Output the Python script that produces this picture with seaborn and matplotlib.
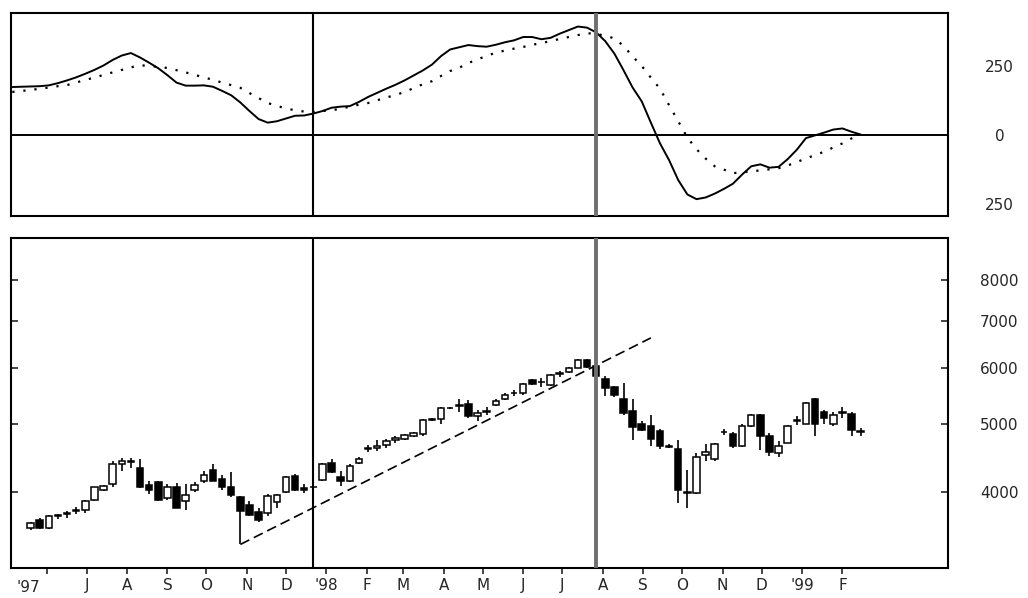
import numpy as np
import pandas as pd
import matplotlib as mpl
import matplotlib.pyplot as plt
plt.switch_backend('Agg')
import seaborn as sns

# weekly candles, May 1997 - Feb 1999
week_start = "1997-05-19"
opens = [3560, 3650, 3560, 3700, 3720, 3760, 3770, 3900, 4030, 4110,
         4380, 4420, 4330, 4090, 4130, 3920, 4070, 3880, 4030, 4150,
         4300, 4180, 4060, 3930, 3830, 3750, 3740, 3870, 4000, 4220,
         4050, 4060, 4160, 4400, 4200, 4150, 4400, 4600, 4620, 4660,
         4740, 4760, 4800, 4830, 5060, 5080, 5260, 5300, 5340, 5120,
         5200, 5320, 5420, 5520, 5520, 5770, 5730, 5680, 5880, 5920,
         6000, 6150, 6040, 5780, 5630, 5420, 5220, 5000, 4970, 4880,
         4650, 4600, 3990, 3990, 4520, 4450, 4870, 4840, 4650, 4960,
         5150, 4810, 4550, 4700, 5040, 5000, 5420, 5200, 5000, 5180,
         5160, 4880]
highs = [3630, 3670, 3710, 3720, 3760, 3810, 3900, 4070, 4090, 4420,
         4470, 4470, 4450, 4140, 4150, 4100, 4120, 4100, 4130, 4280,
         4390, 4230, 4270, 3950, 3880, 3790, 3980, 3980, 4210, 4240,
         4100, 4080, 4400, 4450, 4280, 4380, 4480, 4660, 4740, 4760,
         4800, 4830, 4860, 5080, 5090, 5280, 5290, 5420, 5400, 5230,
         5280, 5420, 5520, 5580, 5720, 5790, 5800, 5880, 5950, 6010,
         6170, 6180, 6060, 5850, 5660, 5710, 5420, 5050, 5150, 4920,
         4680, 4740, 4300, 4550, 4680, 4700, 4920, 4870, 4990, 5160,
         5170, 4850, 4720, 4980, 5130, 5370, 5440, 5230, 5200, 5290,
         5200, 4930]
lows = [3530, 3540, 3550, 3660, 3680, 3720, 3740, 3890, 4010, 4060,
        4290, 4330, 4050, 3980, 3880, 3900, 3790, 3770, 4000, 4120,
        4140, 4030, 3940, 3370, 3700, 3630, 3700, 3800, 3990, 4010,
        3990, 4040, 4150, 4250, 4080, 4130, 4380, 4560, 4580, 4620,
        4700, 4740, 4790, 4800, 5040, 5000, 5240, 5200, 5100, 5050,
        5150, 5300, 5400, 5480, 5500, 5680, 5640, 5660, 5830, 5900,
        5990, 5990, 5830, 5480, 5450, 5150, 4740, 4880, 4650, 4600,
        4620, 3860, 3800, 3980, 4420, 4430, 4820, 4620, 4630, 4940,
        4590, 4500, 4480, 4690, 4980, 4990, 4800, 5000, 4970, 5100,
        4800, 4800]
closes = [3610, 3560, 3700, 3710, 3730, 3770, 3890, 4060, 4080, 4380,
          4420, 4410, 4060, 4030, 3900, 4070, 3800, 3960, 4090, 4230,
          4150, 4060, 3960, 3760, 3710, 3650, 3950, 3960, 4200, 4020,
          4020, 4070, 4390, 4270, 4150, 4350, 4460, 4620, 4650, 4720,
          4780, 4820, 4850, 5060, 5070, 5260, 5270, 5310, 5120, 5180,
          5210, 5380, 5490, 5530, 5690, 5700, 5740, 5860, 5900, 5990,
          6150, 6010, 5850, 5620, 5490, 5180, 4950, 4900, 4750, 4650,
          4630, 4020, 4000, 4480, 4560, 4680, 4860, 4650, 4960, 5140,
          4800, 4560, 4650, 4960, 5060, 5350, 5000, 5100, 5150, 5190,
          4900, 4870]

# MACD (solid) and signal line (dotted), weekly from early May 1997
macd_start = "1997-05-05"
macd = [174, 175, 176, 177, 180, 188, 198, 209, 222, 236,
        252, 272, 288, 297, 281, 262, 242, 217, 190, 179,
        179, 180, 175, 160, 144, 118, 87, 58, 45, 50,
        60, 70, 71, 78, 87, 99, 103, 105, 120, 138,
        153, 168, 182, 198, 216, 234, 255, 286, 310, 318,
        326, 322, 320, 327, 336, 343, 355, 355, 347, 352,
        367, 380, 393, 389, 372, 340, 295, 235, 172, 122,
        45, -30, -91, -163, -215, -232, -226, -212, -195, -176,
        -143, -113, -106, -118, -115, -87, -53, -11, -1, 9,
        20, 24, 12, 2]
signal = [156, 160, 163, 168, 172, 177, 181, 190, 200, 208,
          218, 227, 236, 245, 253, 250, 247, 243, 235, 227,
          218, 209, 200, 190, 181, 171, 152, 134, 116, 106,
          96, 90, 85, 84, 87, 90, 95, 103, 110, 116,
          126, 136, 145, 156, 170, 184, 195, 214, 232, 244,
          261, 274, 287, 298, 306, 313, 319, 327, 333, 340,
          348, 355, 362, 369, 366, 360, 350, 323, 285, 250,
          208, 168, 108, 50, -9, -51, -85, -113, -125, -138,
          -135, -131, -128, -124, -120, -110, -98, -84, -73, -60,
          -45, -30, -12, -2]

# trend line from the Oct 97 low
trend_dates = ["1997-10-27", "1998-09-07"]
trend_prices = [3370, 6620]

# marker lines
marker_dates = ["1997-12-22", "1998-07-27"]

month_labels = ["", "J", "A", "S", "O", "N", "D", "'98", "F", "M", "A", "M",
                "J", "J", "A", "S", "O", "N", "D", "'99", "F"]
price_ticks = [4000, 5000, 6000, 7000, 8000]
macd_ticks = [250, 0, -250]
macd_tick_labels = ["250", "0", "250"]

dates = pd.date_range(week_start, periods=len(closes), freq="W-MON")
macd_dates = pd.date_range(macd_start, periods=len(macd), freq="W-MON")
candles = pd.DataFrame({"date": dates, "open": opens, "high": highs, "low": lows, "close": closes})
lines = pd.DataFrame({"date": macd_dates, "macd": macd, "signal": signal})
trend = pd.DataFrame({"date": pd.to_datetime(trend_dates), "price": trend_prices})

sns.set_style("ticks")
plt.rcParams['font.family'] = ['DejaVu Sans']

fig = plt.figure(figsize=(10.28, 5.98), dpi=100)
W, H = 1028, 598
ax_top = fig.add_axes([11 / W, 1 - 216 / H, (948 - 11) / W, (216 - 13) / H])
ax_bot = fig.add_axes([11 / W, 1 - 568 / H, (948 - 11) / W, (568 - 238) / H])

xlim = (pd.Timestamp("1997-05-04"), pd.Timestamp("1999-04-23"))

# ---- top panel: MACD
sns.lineplot(ax=ax_top, data=lines, x="date", y="macd", color="black", linewidth=1.4)
sns.lineplot(ax=ax_top, data=lines, x="date", y="signal", color="black", linewidth=1.6,
             linestyle=(0, (1, 4)))
ax_top.axhline(0, color="black", linewidth=1.4)
ax_top.set_xlim(xlim)
ax_top.set_ylim(-293, 442)
ax_top.set_xticks([])
ax_top.set_xlabel("")
ax_top.set_ylabel("")
ax_top.yaxis.tick_right()
ax_top.set_yticks(macd_ticks, macd_tick_labels)
ax_top.tick_params(axis="y", length=0, pad=37, labelsize=11)
for lbl in ax_top.get_yticklabels():
    lbl.set_horizontalalignment("center")

# ---- bottom panel: weekly candles
ax_bot.set_yscale("log")
ax_bot.vlines(candles["date"], candles["low"], candles["high"], color="black", linewidth=1.2, zorder=2)
up = candles["close"] >= candles["open"]
body_lo = np.minimum(candles["open"], candles["close"])
body_h = np.maximum(np.abs(candles["close"] - candles["open"]), 8)
ax_bot.bar(candles["date"], body_h, bottom=body_lo, width=5,
           color=np.where(up, "white", "black"), edgecolor="black", linewidth=1.1, zorder=3)
sns.lineplot(ax=ax_bot, data=trend, x="date", y="price", color="black", linewidth=1.2,
             linestyle=(0, (6, 3)))

ax_bot.set_xlim(xlim)
ax_bot.set_ylim(3120, 9177)
ax_bot.set_xlabel("")
ax_bot.set_ylabel("")
ax_bot.yaxis.set_minor_locator(mpl.ticker.NullLocator())
ax_bot.set_yticks(price_ticks, [str(t) for t in price_ticks])
ax_bot.yaxis.set_minor_locator(mpl.ticker.NullLocator())
ax_bot.tick_params(axis="y", left=True, right=True, labelleft=False, labelright=True,
                   direction="in", length=5, width=1.2, pad=37, labelsize=11)
for lbl in ax_bot.get_yticklabels():
    lbl.set_horizontalalignment("center")

month_ticks = pd.date_range("1997-06-01", "1999-02-01", freq="MS")
ax_bot.set_xticks(month_ticks, month_labels)
ax_bot.xaxis.set_minor_locator(mpl.ticker.NullLocator())
ax_bot.tick_params(axis="x", direction="out", length=4, width=1.2, pad=3, labelsize=11)
ax_bot.text(pd.Timestamp("1997-05-17"), -0.035, "'97", transform=ax_bot.get_xaxis_transform(),
            ha="center", va="top", fontsize=11)

for ax in (ax_top, ax_bot):
    for d, c, lw in zip(marker_dates, ["black", "#707070"], [1.5, 2.8]):
        ax.axvline(pd.Timestamp(d), color=c, linewidth=lw, zorder=5)
    for sp in ax.spines.values():
        sp.set_visible(True)
        sp.set_linewidth(1.5)
        sp.set_color("black")

fig.savefig("out.png", dpi=100, facecolor="white")
